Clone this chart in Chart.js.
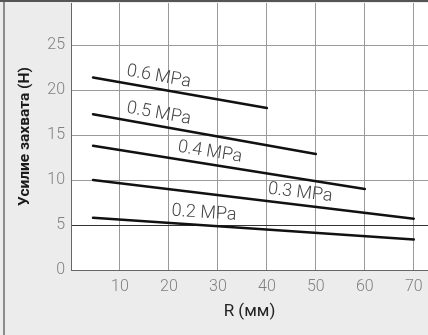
<!DOCTYPE html>
<html>
<head>
<meta charset="utf-8">
<script src="https://cdn.jsdelivr.net/npm/chart.js@4/dist/chart.umd.min.js"></script>
<style>
  html, body { margin: 0; padding: 0; background: #ececec; }
  #wrap { width: 428px; height: 335px; position: relative; }
</style>
</head>
<body>
<div id="wrap"><canvas id="myChart"></canvas></div>
<script>
// pressure series (MPa), each a straight line from rStart to rEnd
const pressures = ["0.2 MPa", "0.3 MPa", "0.4 MPa", "0.5 MPa", "0.6 MPa"];
const rStart = [4.5, 4.5, 4.5, 4.5, 4.5];
const rEnd = [70, 70, 60, 50, 40];
const forceStart = [5.8, 10.0, 13.8, 17.3, 21.4];
const forceEnd = [3.4, 5.7, 9.0, 12.9, 18.0];
// R value where each label sits along its line
const labelR = [27, 46.5, 28, 17.5, 17.5];

const frame = {
  id: "frame",
  beforeDraw(chart) {
    const c = chart.ctx, a = chart.chartArea;
    c.save();
    c.fillStyle = "#ececec";
    c.fillRect(0, 0, chart.width, chart.height);
    c.fillStyle = "#fff";
    c.fillRect(a.left, a.top, a.right - a.left, a.bottom - a.top);
    c.fillStyle = "#8c8c8c";
    c.fillRect(3, 0, 2, chart.height);
    c.fillStyle = "#555";
    c.fillRect(0, 0, chart.width, 2);
    c.restore();
  },
  afterDatasetsDraw(chart) {
    const c = chart.ctx, x = chart.scales.x, y = chart.scales.y;
    c.save();
    c.fillStyle = "#444";
    c.font = "300 18px Roboto, 'DejaVu Sans', sans-serif";
    c.textAlign = "center";
    c.textBaseline = "middle";
    pressures.forEach((p, i) => {
      const x0 = x.getPixelForValue(rStart[i]), y0 = y.getPixelForValue(forceStart[i]);
      const x1 = x.getPixelForValue(rEnd[i]), y1 = y.getPixelForValue(forceEnd[i]);
      const ang = Math.atan2(y1 - y0, x1 - x0);
      const t = (labelR[i] - rStart[i]) / (rEnd[i] - rStart[i]);
      const px = x0 + (x1 - x0) * t, py = y0 + (y1 - y0) * t;
      c.save();
      c.translate(px + Math.sin(ang) * 12, py - Math.cos(ang) * 12);
      c.rotate(ang);
      c.fillText(p, 0, 0);
      c.restore();
    });
    c.restore();
  }
};

const ctx = document.getElementById("myChart").getContext("2d");
const myChart = new Chart(ctx, {
  type: "line",
  data: {
    datasets: pressures.map((p, i) => ({
      label: p,
      data: [{ x: rStart[i], y: forceStart[i] }, { x: rEnd[i], y: forceEnd[i] }],
      borderColor: "#111",
      borderWidth: 2.5,
      pointRadius: 0,
      borderCapStyle: "round"
    }))
  },
  options: {
    responsive: true,
    maintainAspectRatio: false,
    animation: false,
    layout: { padding: { top: 3, right: 0, left: 0, bottom: 0 } },
    plugins: { legend: { display: false }, tooltip: { enabled: false } },
    scales: {
      x: {
        type: "linear",
        min: 0,
        max: 72.9,
        afterFit(s) { s.height = 65; },
        border: { color: "#666" },
        grid: { color: "#9a9a9a", tickLength: 7, tickColor: "rgba(0,0,0,0)" },
        ticks: {
          stepSize: 10,
          includeBounds: false,
          padding: 0,
          color: "#808080",
          font: { family: "Roboto", size: 16, weight: 300 },
          callback: v => (v === 0 ? "" : v)
        },
        title: {
          display: true,
          text: "R (мм)",
          color: "#222",
          font: { family: "Roboto", size: 17 },
          padding: { top: 0, bottom: 13 }
        }
      },
      y: {
        min: 0,
        max: 29.67,
        afterFit(s) { s.width = 71; },
        border: { color: "#666" },
        grid: {
          color: c => (c.tick && c.tick.value === 5 ? "#333" : "#9a9a9a"),
          tickLength: 6,
          tickColor: "rgba(0,0,0,0)"
        },
        ticks: {
          stepSize: 5,
          includeBounds: false,
          padding: 0,
          color: "#808080",
          font: { family: "Roboto", size: 16, weight: 300, lineHeight: 0.01 }
        },
        title: {
          display: true,
          text: "Усилие захвата (H)",
          color: "#1a1a1a",
          font: { family: "Roboto", size: 15.5, weight: "bold" },
          padding: { top: 16, bottom: 0 }
        }
      }
    }
  },
  plugins: [frame]
});
</script>
</body>
</html>
